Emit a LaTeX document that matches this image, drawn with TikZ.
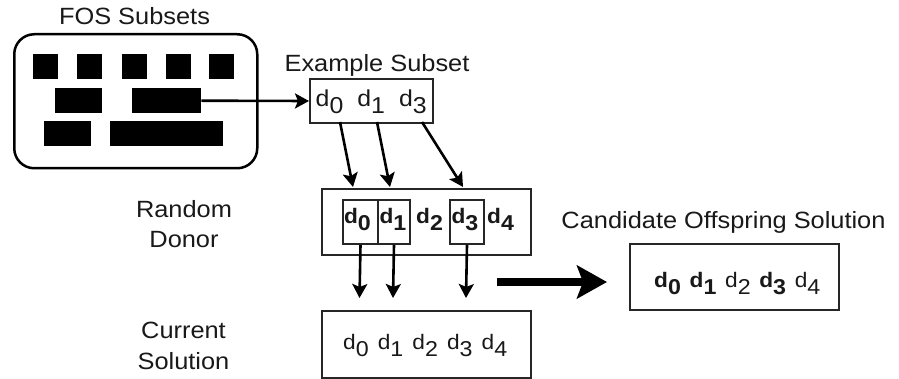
\documentclass[tikz,border=0pt]{standalone}
\usepackage{fontspec}
\setmainfont[FakeStretch=1.08]{Liberation Sans}
\usetikzlibrary{arrows.meta}
\newcommand{\di}[2][21.5]{d\raisebox{-7pt}{\fontsize{#1}{#1}\selectfont #2}}
\newcommand{\dgap}{\hspace{9.1pt}}
\newcommand{\cgap}{\hspace{8.7pt}}
\tikzset{
  box/.style={draw=black!85, line width=2pt, minimum width=#1, anchor=north west, inner sep=0pt},
  blk/.style={fill=black, draw=none, anchor=north west, inner sep=0pt},
  lbl/.style={text=black!90, font=\fontsize{23.5}{30.3}\selectfont, inner sep=0pt, align=center},
  itm/.style={text=black!90, font=\fontsize{21}{21}\selectfont, inner sep=0pt, anchor=base west},
  bitm/.style={itm, font=\fontsize{21}{21}\selectfont\bfseries},
  conn/.style={line width=2.6pt, draw=black, -{Stealth[length=14pt,width=15pt,inset=3pt]}},
  bigconn/.style={line width=7pt, draw=black, -{Stealth[length=30pt,width=33pt,inset=6pt]}}
}
\begin{document}
\begin{tikzpicture}[x=1pt,y=-1pt]
\fill[white] (0,0) rectangle (899,379);
\useasboundingbox (0,0) rectangle (899,379);

% FOS subsets
\node[lbl, anchor=base] (fosl) at (134.5,25) {FOS Subsets};
\node[draw=black, line width=2.5pt, rounded corners=20pt, minimum width=243pt, minimum height=134pt, anchor=north west, inner sep=0pt] (fos) at (13,33) {};
\node[blk, minimum width=25pt, minimum height=25pt] (r1) at (33,54) {};
\node[blk, minimum width=25pt, minimum height=25pt] (r2) at (77,54) {};
\node[blk, minimum width=25pt, minimum height=25pt] (r3) at (122,54) {};
\node[blk, minimum width=25pt, minimum height=25pt] (r4) at (166,54) {};
\node[blk, minimum width=25pt, minimum height=25pt] (r5) at (209,54) {};
\node[blk, minimum width=47pt, minimum height=25pt] (r6) at (55,88) {};
\node[blk, minimum width=69pt, minimum height=25pt] (r7) at (132,88) {};
\node[blk, minimum width=47pt, minimum height=25pt] (r8) at (44,121) {};
\node[blk, minimum width=113pt, minimum height=25pt] (r9) at (110,121) {};

% Example subset
\node[lbl, anchor=base] (exl) at (377,72) {Example Subset};
\node[box=123pt, minimum height=44pt] (ex) at (309,78) {};
\node[itm, font=\fontsize{23}{23}\selectfont] (ext) at (315.5,107)
  {\di[23]{0}\hspace{14.1pt}\di[23]{1}\hspace{14.1pt}\di[23]{3}};

% Random donor
\node[lbl, anchor=base] (rdl) at (184,248) {Random\\Donor};
\node[box=209pt, minimum height=66pt] (don) at (321,188) {};
\node[box=35pt, minimum height=44pt] (b0) at (342,199) {};
\node[box=32pt, minimum height=44pt] (b1) at (377,199) {};
\node[box=34pt, minimum height=44pt] (b3) at (449,199) {};
\node[bitm] (t0) at (343.8,224) {\di{0}};
\node[bitm] (t1) at (379.3,224) {\di{1}};
\node[bitm] (t2) at (416,224) {\di{2}};
\node[bitm] (t3) at (451.3,224) {\di{3}};
\node[bitm] (t4) at (487,224) {\di{4}};

% Current solution
\node[lbl, anchor=base] (csl) at (183.5,369) {Current\\Solution};
\node[box=209pt, minimum height=67pt] (cur) at (321,310) {};
\node[itm] (curt) at (343,349.3) {\di{0}\dgap\di{1}\dgap\di{2}\dgap\di{3}\dgap\di{4}};

% Candidate offspring
\node[lbl, anchor=base] (cal) at (723.5,228.3) {Candidate Offspring Solution};
\node[box=209pt, minimum height=66pt] (cand) at (629,243) {};
\node[itm] (candt) at (654,287.5)
  {\textbf{\di{0}}\cgap\textbf{\di{1}}\cgap\di{2}\cgap\textbf{\di{3}}\cgap\di{4}};

% connector end points
\coordinate (s0) at (340,122); \coordinate (e0) at (353,187);
\coordinate (s1) at (377,122); \coordinate (e1) at (390,187);
\coordinate (s3) at (422,122); \coordinate (e3) at (463,187);
\coordinate (f0) at (359.5,298); \coordinate (f1) at (393,298); \coordinate (f3) at (466,298);
\coordinate (ba) at (497,282); \coordinate (bb) at (607,282);

% connectors
\draw[conn] (r7.east) -- (ex.west);
\draw[conn] (s0) -- (e0);
\draw[conn] (s1) -- (e1);
\draw[conn] (s3) -- (e3);
\draw[conn] (b0.south) -- (f0);
\draw[conn] (b1.south) -- (f1);
\draw[conn] (b3.south) -- (f3);
\draw[bigconn] (ba) -- (bb);
\end{tikzpicture}
\end{document}
